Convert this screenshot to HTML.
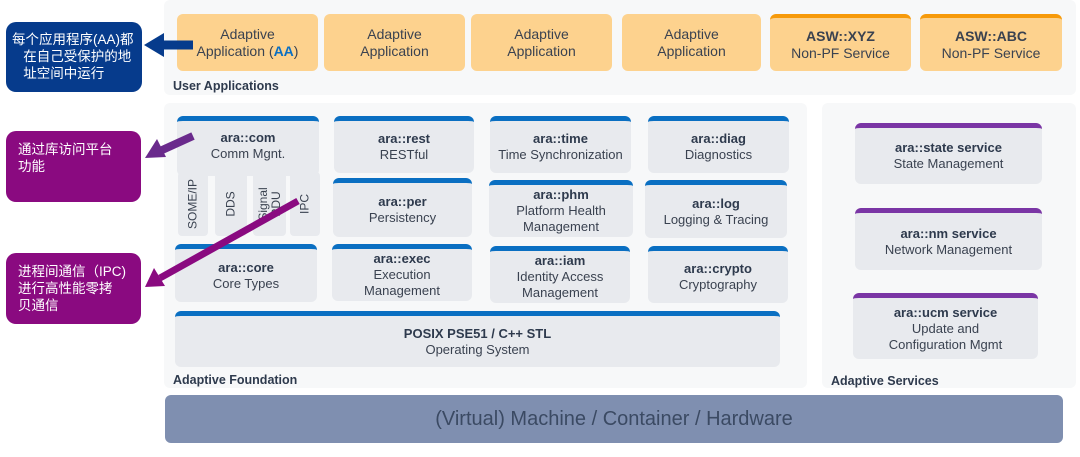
<!DOCTYPE html>
<html><head><meta charset="utf-8"><style>
*{margin:0;padding:0;box-sizing:border-box}
body{width:1080px;height:457px;background:#fff;position:relative;overflow:hidden;font-family:"Liberation Sans","Noto Sans CJK SC",sans-serif;color:#2e3a4d}
.a{position:absolute}
.panel{position:absolute;background:#f7f8f9;border-radius:6px}
.app{position:absolute;background:#fdd28e;border-radius:6px;display:flex;flex-direction:column;align-items:center;justify-content:center;font-size:14px;line-height:17px;text-align:center;color:#3a4250}
.app.o{border-top:4px solid #f79a0a}
.box{position:absolute;background:#e8eaee;border-radius:6px;border-top:5px solid #0a6fc2;display:flex;flex-direction:column;align-items:center;justify-content:center;font-size:13px;line-height:16px;text-align:center;color:#3a4250}
.box b{color:#2e3a4d}
.box.p{border-top-color:#7a35a5}
.sub{position:absolute;background:#e8eaee;border-radius:4px;font-size:12px;color:#3a4250}
.sub span{position:absolute;left:50%;top:50%;transform:translate(-50%,-50%) rotate(-90deg);white-space:nowrap;line-height:13px;text-align:center}
.lbl{position:absolute;font-size:12.5px;font-weight:bold;color:#2e3a4d}
.call{position:absolute;border-radius:10px;color:#fff;font-size:13.5px;line-height:17px}
</style></head><body>
<div class="panel" style="left:164px;top:0;width:912px;height:95px"></div>
<div class="panel" style="left:164px;top:103px;width:643px;height:285px"></div>
<div class="panel" style="left:822px;top:103px;width:254px;height:285px"></div>

<div class="app" style="left:177px;top:14px;width:141px;height:57px"><div>Adaptive</div><div>Application (<b style="color:#0a6fc2">AA</b>)</div></div>
<div class="app" style="left:324px;top:14px;width:141px;height:57px"><div>Adaptive</div><div>Application</div></div>
<div class="app" style="left:471px;top:14px;width:141px;height:57px"><div>Adaptive</div><div>Application</div></div>
<div class="app" style="left:622px;top:14px;width:139px;height:57px"><div>Adaptive</div><div>Application</div></div>
<div class="app o" style="left:770px;top:14px;width:141px;height:57px"><b>ASW::XYZ</b><div>Non-PF Service</div></div>
<div class="app o" style="left:920px;top:14px;width:142px;height:57px"><b>ASW::ABC</b><div>Non-PF Service</div></div>
<div class="lbl" style="left:173px;top:79px">User Applications</div>

<div class="box" style="left:177px;top:116px;width:142px;height:60px;justify-content:flex-start;padding-top:9px"><b>ara::com</b><div>Comm Mgnt.</div></div>
<div class="sub" style="left:178px;top:172px;width:30px;height:64px"><span>SOME/IP</span></div>
<div class="sub" style="left:215px;top:172px;width:32px;height:64px"><span>DDS</span></div>
<div class="sub" style="left:253px;top:172px;width:33px;height:64px"><span>Signal<br>PDU</span></div>
<div class="sub" style="left:290px;top:172px;width:30px;height:64px"><span>IPC</span></div>

<div class="box" style="left:334px;top:116px;width:140px;height:57px"><b>ara::rest</b><div>RESTful</div></div>
<div class="box" style="left:490px;top:116px;width:141px;height:57px"><b>ara::time</b><div>Time Synchronization</div></div>
<div class="box" style="left:648px;top:116px;width:141px;height:57px"><b>ara::diag</b><div>Diagnostics</div></div>
<div class="box" style="left:333px;top:178px;width:139px;height:59px"><b>ara::per</b><div>Persistency</div></div>
<div class="box" style="left:489px;top:180px;width:144px;height:57px"><b>ara::phm</b><div>Platform Health</div><div>Management</div></div>
<div class="box" style="left:645px;top:180px;width:142px;height:58px"><b>ara::log</b><div>Logging &amp; Tracing</div></div>
<div class="box" style="left:175px;top:244px;width:142px;height:58px"><b>ara::core</b><div>Core Types</div></div>
<div class="box" style="left:332px;top:244px;width:140px;height:57px"><b>ara::exec</b><div>Execution</div><div>Management</div></div>
<div class="box" style="left:490px;top:246px;width:140px;height:57px"><b>ara::iam</b><div>Identity Access</div><div>Management</div></div>
<div class="box" style="left:648px;top:246px;width:140px;height:57px"><b>ara::crypto</b><div>Cryptography</div></div>
<div class="box" style="left:175px;top:311px;width:605px;height:56px"><b>POSIX PSE51 / C++ STL</b><div>Operating System</div></div>
<div class="lbl" style="left:173px;top:373px">Adaptive Foundation</div>

<div class="box p" style="left:855px;top:123px;width:187px;height:61px"><b>ara::state service</b><div>State Management</div></div>
<div class="box p" style="left:855px;top:208px;width:187px;height:62px"><b>ara::nm service</b><div>Network Management</div></div>
<div class="box p" style="left:853px;top:293px;width:185px;height:66px"><b>ara::ucm service</b><div>Update and</div><div>Configuration Mgmt</div></div>
<div class="lbl" style="left:831px;top:374px">Adaptive Services</div>

<div class="a" style="left:165px;top:395px;width:898px;height:48px;background:#7f8fb0;border-radius:6px;display:flex;align-items:center;justify-content:center;font-size:20px;color:#3b4a63">(Virtual) Machine / Container / Hardware</div>

<div class="call" style="left:6px;top:22px;width:136px;height:70px;background:#063b8c;padding:9px 0 0 6px">每个应用程序(AA)都<br>&nbsp;&nbsp;&nbsp;在自己受保护的地<br>&nbsp;&nbsp;&nbsp;址空间中运行</div>
<div class="call" style="left:6px;top:131px;width:135px;height:71px;background:#8a0a80;padding:10px 0 0 12px">通过库访问平台<br>功能</div>
<div class="call" style="left:6px;top:253px;width:135px;height:71px;background:#8a0a80;padding:10px 0 0 12px">进程间通信（IPC)<br>进行高性能零拷<br>贝通信</div>

<svg class="a" style="left:0;top:0" width="1080" height="457">
<line x1="193" y1="45" x2="160" y2="45" stroke="#063b8c" stroke-width="9"/>
<polygon points="144,45 164,33 164,57" fill="#063b8c"/>
<line x1="193" y1="136" x2="160" y2="151" stroke="#6a2a8c" stroke-width="8"/>
<polygon points="145,158 157,139 166,157" fill="#6a2a8c"/>
<line x1="298" y1="201" x2="160" y2="278" stroke="#8a0a80" stroke-width="7"/>
<polygon points="145,287 154,268 165,286" fill="#8a0a80"/>
</svg>
</body></html>
